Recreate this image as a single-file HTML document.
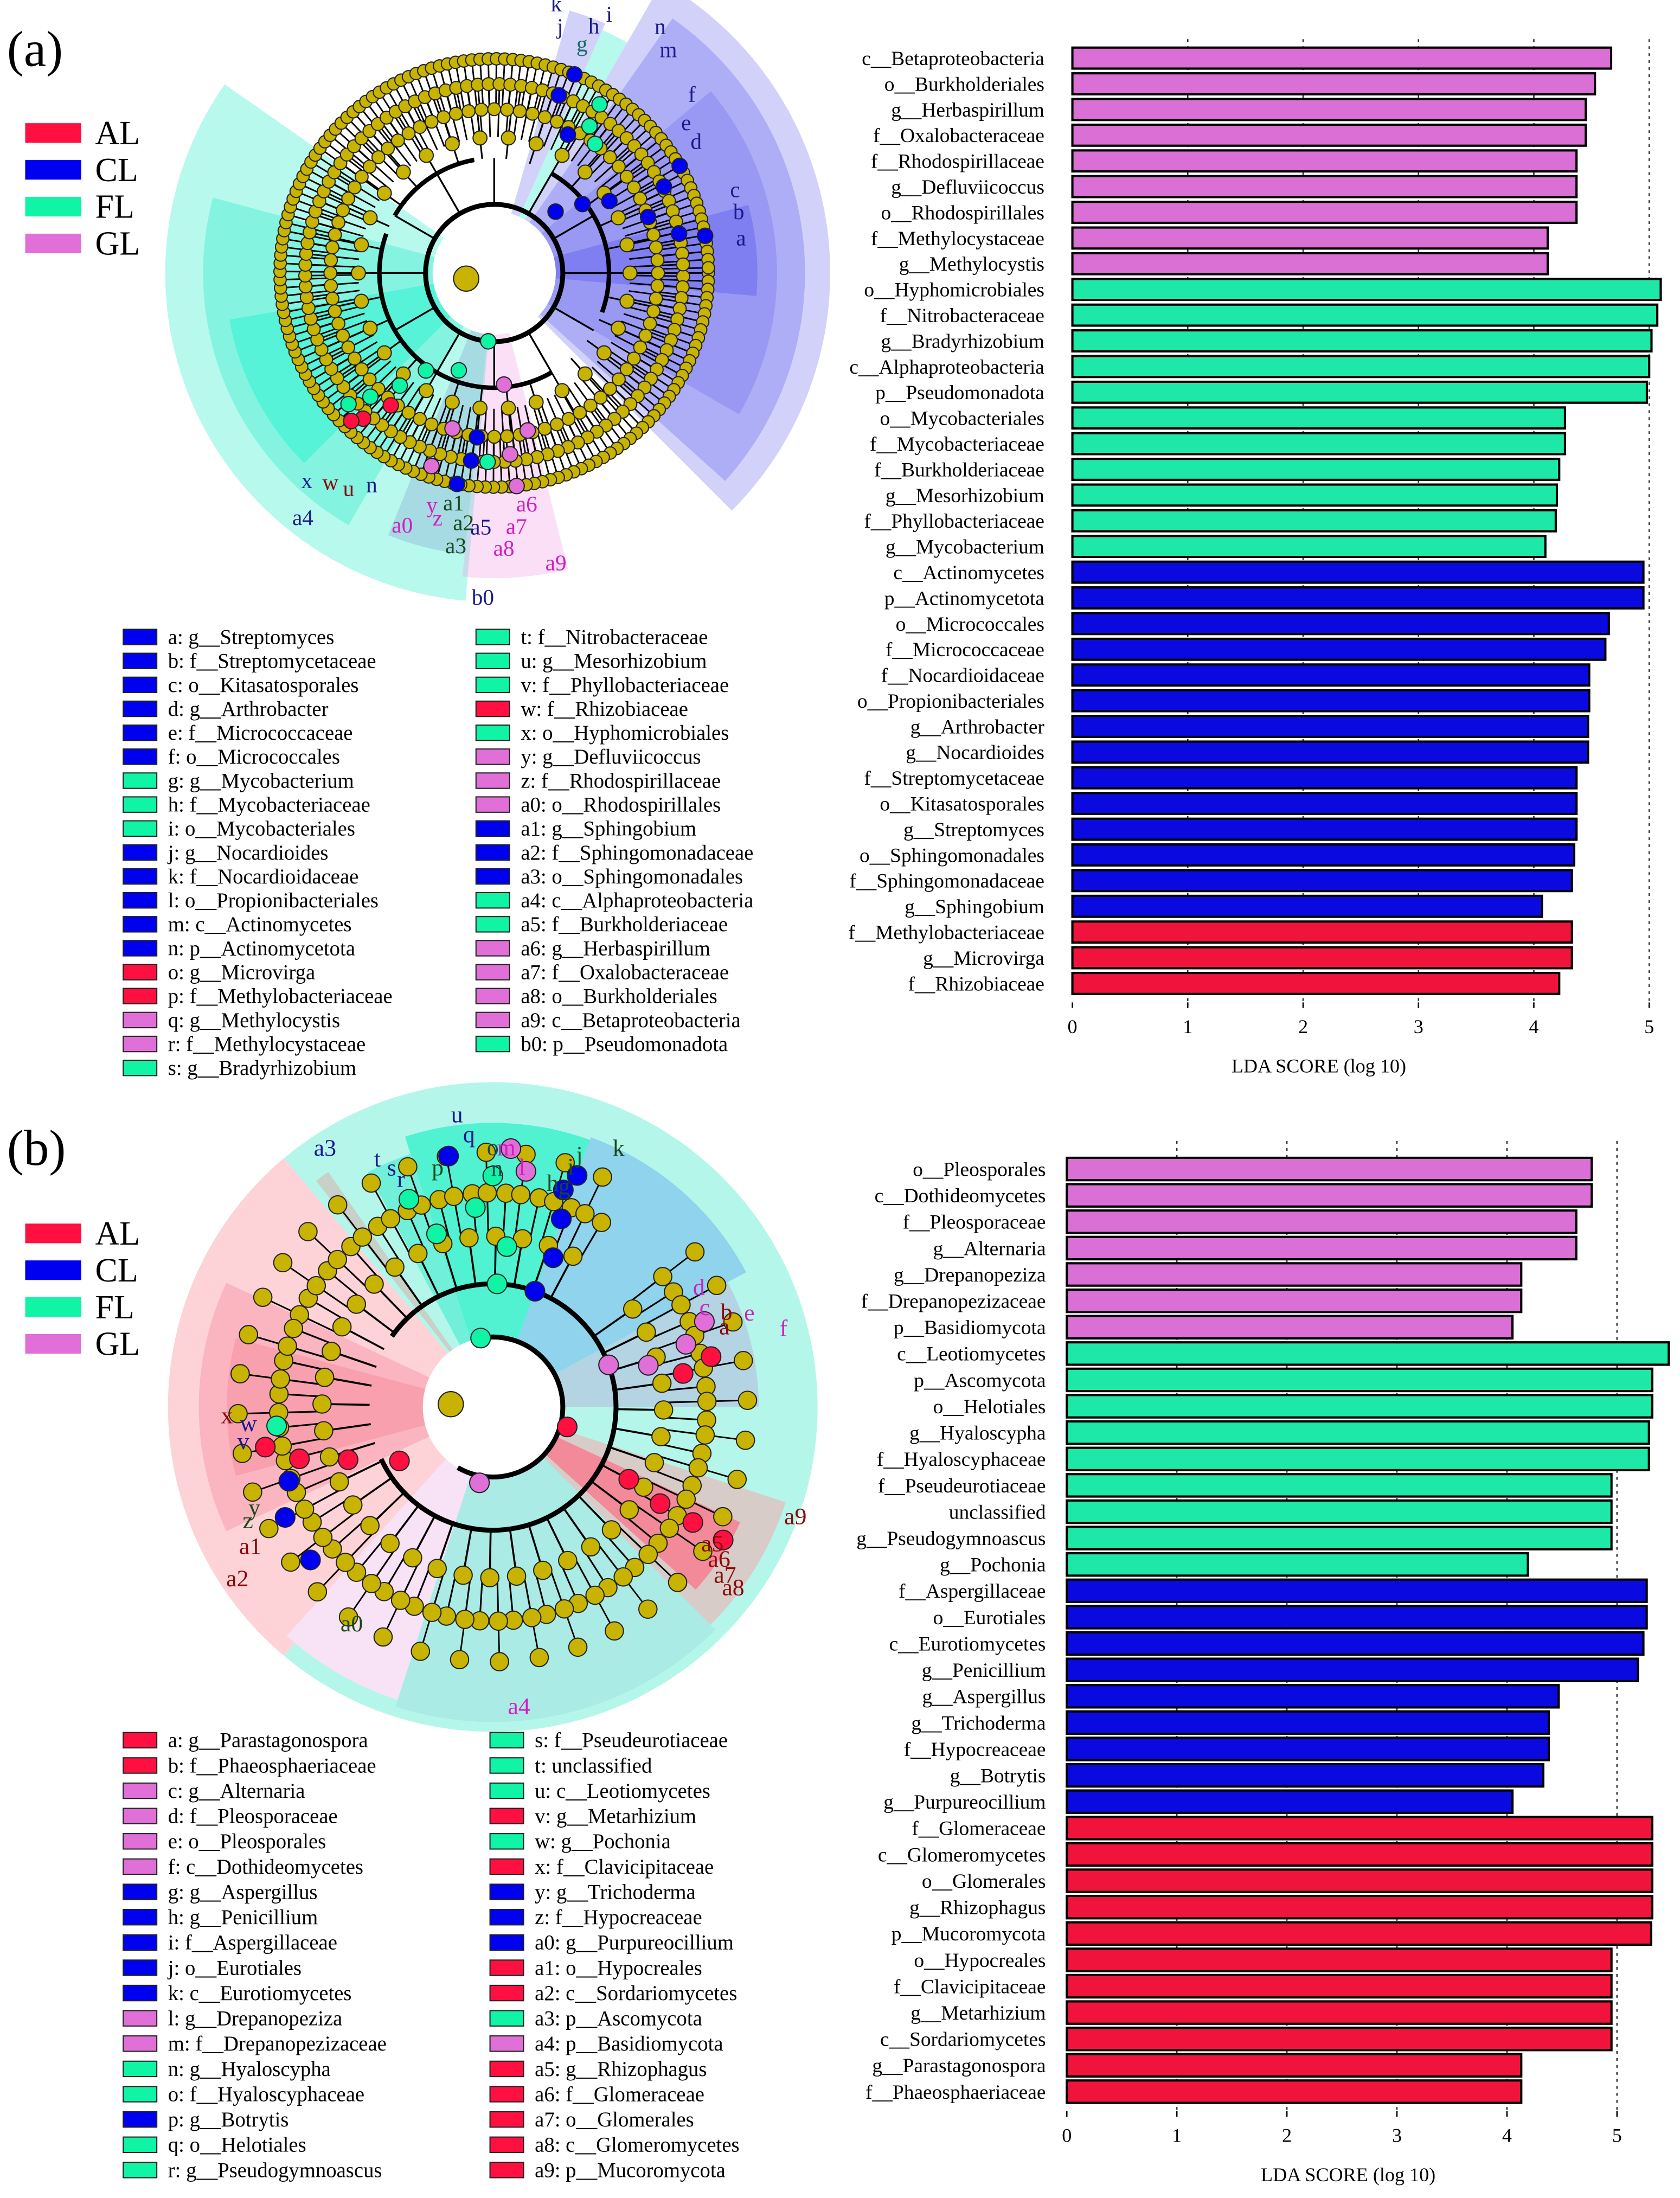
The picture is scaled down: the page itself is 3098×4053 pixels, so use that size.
<!DOCTYPE html>
<html><head><meta charset="utf-8"><style>
html,body{margin:0;padding:0;background:#fff}
svg{display:block;font-family:"Liberation Serif","DejaVu Serif","Times New Roman",serif}
svg text{font-family:"Liberation Serif","DejaVu Serif","Times New Roman",serif}
</style></head><body>
<svg id="root" xmlns="http://www.w3.org/2000/svg" width="3098" height="4053" viewBox="0 0 1200 1570" preserveAspectRatio="none">
<rect width="1200" height="1570" fill="#fff"/>
<text x="5" y="47" font-size="36">(a)</text>
<text x="5" y="832" font-size="36">(b)</text>
<g id="cladeA"></g>
<g id="cladeB"></g>
<g id="legA"></g>
<g id="legB"></g>
<g id="barA"></g>
<g id="barB"></g>
</svg>
<script>
// ===== Chart (a) data =====
const labelsA = ["c__Betaproteobacteria","o__Burkholderiales","g__Herbaspirillum","f__Oxalobacteraceae","f__Rhodospirillaceae","g__Defluviicoccus","o__Rhodospirillales","f__Methylocystaceae","g__Methylocystis","o__Hyphomicrobiales","f__Nitrobacteraceae","g__Bradyrhizobium","c__Alphaproteobacteria","p__Pseudomonadota","o__Mycobacteriales","f__Mycobacteriaceae","f__Burkholderiaceae","g__Mesorhizobium","f__Phyllobacteriaceae","g__Mycobacterium","c__Actinomycetes","p__Actinomycetota","o__Micrococcales","f__Micrococcaceae","f__Nocardioidaceae","o__Propionibacteriales","g__Arthrobacter","g__Nocardioides","f__Streptomycetaceae","o__Kitasatosporales","g__Streptomyces","o__Sphingomonadales","f__Sphingomonadaceae","g__Sphingobium","f__Methylobacteriaceae","g__Microvirga","f__Rhizobiaceae"];
const valuesA = [4.67,4.53,4.45,4.45,4.37,4.37,4.37,4.12,4.12,5.1,5.07,5.02,5.0,4.98,4.27,4.27,4.22,4.2,4.19,4.1,4.95,4.95,4.65,4.62,4.48,4.48,4.47,4.47,4.37,4.37,4.37,4.35,4.33,4.07,4.33,4.33,4.22];
const groupsA = ["GL","GL","GL","GL","GL","GL","GL","GL","GL","FL","FL","FL","FL","FL","FL","FL","FL","FL","FL","FL","CL","CL","CL","CL","CL","CL","CL","CL","CL","CL","CL","CL","CL","CL","AL","AL","AL"];
const ticksA = [0,1,2,3,4,5];
// ===== Chart (b) data =====
const labelsB = ["o__Pleosporales","c__Dothideomycetes","f__Pleosporaceae","g__Alternaria","g__Drepanopeziza","f__Drepanopezizaceae","p__Basidiomycota","c__Leotiomycetes","p__Ascomycota","o__Helotiales","g__Hyaloscypha","f__Hyaloscyphaceae","f__Pseudeurotiaceae","unclassified","g__Pseudogymnoascus","g__Pochonia","f__Aspergillaceae","o__Eurotiales","c__Eurotiomycetes","g__Penicillium","g__Aspergillus","g__Trichoderma","f__Hypocreaceae","g__Botrytis","g__Purpureocillium","f__Glomeraceae","c__Glomeromycetes","o__Glomerales","g__Rhizophagus","p__Mucoromycota","o__Hypocreales","f__Clavicipitaceae","g__Metarhizium","c__Sordariomycetes","g__Parastagonospora","f__Phaeosphaeriaceae"];
const valuesB = [4.77,4.77,4.63,4.63,4.13,4.13,4.05,5.47,5.32,5.32,5.29,5.29,4.95,4.95,4.95,4.19,5.27,5.27,5.24,5.19,4.47,4.38,4.38,4.33,4.05,5.32,5.32,5.32,5.32,5.31,4.95,4.95,4.95,4.95,4.13,4.13];
const groupsB = ["GL","GL","GL","GL","GL","GL","GL","FL","FL","FL","FL","FL","FL","FL","FL","FL","CL","CL","CL","CL","CL","CL","CL","CL","CL","AL","AL","AL","AL","AL","AL","AL","AL","AL","AL","AL"];
const ticksB = [0,1,2,3,4,5];

const COL = {AL:"#f0143c", CL:"#0a0ae0", FL:"#1ee8a8", GL:"#da70d6"};
const LCOL = {AL:"#ff1040", CL:"#0000f0", FL:"#10f5a5", GL:"#e070d8"};
const NS="http://www.w3.org/2000/svg";
const FF="'Liberation Serif','DejaVu Serif','Times New Roman',serif";
function mk(tag, attrs, parent){const e=document.createElementNS(NS,tag);for(const k in attrs)e.setAttribute(k,attrs[k]);if(tag==="text")e.style.fontFamily=FF;if(parent)parent.appendChild(e);return e;}

function barChart(g, labels, values, groups, ticks, cfg){
  const xs = v => cfg.x0 + v*cfg.unit;
  const ys = i => cfg.y0 + i*cfg.step;
  ticks.forEach(t=>{
    if(t>0){const l=mk("line",{x1:xs(t),x2:xs(t),y1:cfg.top,y2:cfg.axisY,stroke:"#333","stroke-width":1,"stroke-dasharray":"2,3"},g);
      
      }
    const tk=mk("line",{x1:xs(t),x2:xs(t),y1:cfg.axisY,y2:cfg.axisY+4,stroke:"#000","stroke-width":1},g);
    
    
    const tl=mk("text",{x:xs(t),y:cfg.axisY+22,"font-size":14,"text-anchor":"middle"},g);
    tl.textContent=t;
    
    
  });
  labels.forEach((lab,i)=>{
    const r=mk("rect",{x:xs(0),y:ys(i)-cfg.h/2,width:xs(values[i])-xs(0),height:cfg.h,fill:COL[groups[i]],stroke:"#000","stroke-width":1.6},g);
    
    
    const t=mk("text",{x:cfg.labelX,y:ys(i)+5,"font-size":14.5,"text-anchor":"end"},g);
    t.textContent=lab;
    
    
  });
  const tt=mk("text",{x:cfg.titleX,y:cfg.axisY+50,"font-size":14,"text-anchor":"middle"},g);
  tt.textContent="LDA SCORE (log 10)";
  
  
}
barChart(document.getElementById("barA"),labelsA,valuesA,groupsA,ticksA,{x0:766,unit:82.4,y0:41.5,step:18.36,h:15,top:28,axisY:716,labelX:746,titleX:942});
barChart(document.getElementById("barB"),labelsB,valuesB,groupsB,ticksB,{x0:762,unit:78.6,y0:835,step:18.83,h:16,top:815,axisY:1508,labelX:747,titleX:963});

// ===== Legends =====
const legItemsA = [["a: g__Streptomyces","CL"],["b: f__Streptomycetaceae","CL"],["c: o__Kitasatosporales","CL"],["d: g__Arthrobacter","CL"],["e: f__Micrococcaceae","CL"],["f: o__Micrococcales","CL"],["g: g__Mycobacterium","FL"],["h: f__Mycobacteriaceae","FL"],["i: o__Mycobacteriales","FL"],["j: g__Nocardioides","CL"],["k: f__Nocardioidaceae","CL"],["l: o__Propionibacteriales","CL"],["m: c__Actinomycetes","CL"],["n: p__Actinomycetota","CL"],["o: g__Microvirga","AL"],["p: f__Methylobacteriaceae","AL"],["q: g__Methylocystis","GL"],["r: f__Methylocystaceae","GL"],["s: g__Bradyrhizobium","FL"],
["t: f__Nitrobacteraceae","FL"],["u: g__Mesorhizobium","FL"],["v: f__Phyllobacteriaceae","FL"],["w: f__Rhizobiaceae","AL"],["x: o__Hyphomicrobiales","FL"],["y: g__Defluviicoccus","GL"],["z: f__Rhodospirillaceae","GL"],["a0: o__Rhodospirillales","GL"],["a1: g__Sphingobium","CL"],["a2: f__Sphingomonadaceae","CL"],["a3: o__Sphingomonadales","CL"],["a4: c__Alphaproteobacteria","FL"],["a5: f__Burkholderiaceae","FL"],["a6: g__Herbaspirillum","GL"],["a7: f__Oxalobacteraceae","GL"],["a8: o__Burkholderiales","GL"],["a9: c__Betaproteobacteria","GL"],["b0: p__Pseudomonadota","FL"]];
const legItemsB = [["a: g__Parastagonospora","AL"],["b: f__Phaeosphaeriaceae","AL"],["c: g__Alternaria","GL"],["d: f__Pleosporaceae","GL"],["e: o__Pleosporales","GL"],["f: c__Dothideomycetes","GL"],["g: g__Aspergillus","CL"],["h: g__Penicillium","CL"],["i: f__Aspergillaceae","CL"],["j: o__Eurotiales","CL"],["k: c__Eurotiomycetes","CL"],["l: g__Drepanopeziza","GL"],["m: f__Drepanopezizaceae","GL"],["n: g__Hyaloscypha","FL"],["o: f__Hyaloscyphaceae","FL"],["p: g__Botrytis","CL"],["q: o__Helotiales","FL"],["r: g__Pseudogymnoascus","FL"],
["s: f__Pseudeurotiaceae","FL"],["t: unclassified","FL"],["u: c__Leotiomycetes","FL"],["v: g__Metarhizium","AL"],["w: g__Pochonia","FL"],["x: f__Clavicipitaceae","AL"],["y: g__Trichoderma","CL"],["z: f__Hypocreaceae","CL"],["a0: g__Purpureocillium","CL"],["a1: o__Hypocreales","AL"],["a2: c__Sordariomycetes","AL"],["a3: p__Ascomycota","FL"],["a4: p__Basidiomycota","GL"],["a5: g__Rhizophagus","AL"],["a6: f__Glomeraceae","AL"],["a7: o__Glomerales","AL"],["a8: c__Glomeromycetes","AL"],["a9: p__Mucoromycota","AL"]];
function legend(g, items, split, y0, step, x1, x2){
  items.forEach((it,i)=>{
    const col = i<split?0:1, row = i<split?i:i-split;
    const x = col?x2:x1, y=y0+row*step;
    const r=mk("rect",{x:x,y:y-5.5,width:24,height:11,fill:LCOL[it[1]],stroke:"#222","stroke-width":0.8},g);
    
    
    const t=mk("text",{x:x+32,y:y+5,"font-size":15},g);
    t.textContent=it[0];
    
    
  });
}
legend(document.getElementById("legA"),legItemsA,19,455,17.1,88,340);
legend(document.getElementById("legB"),legItemsB,18,1243,18.06,88,350);

function groupLegend(y0){
  const g=document.getElementById("root");
  ["AL","CL","FL","GL"].forEach((k,i)=>{
    const r=mk("rect",{x:18,y:y0+i*26.3-7,width:40,height:14,fill:LCOL[k]},g);
    
    
    const t=mk("text",{x:68,y:y0+i*26.3+8,"font-size":24},g);
    t.textContent=k;
    
    
  });
}
groupLegend(95); groupLegend(881);

// ===== Cladograms =====
function P(cx,cy,r,a){const t=a*Math.PI/180;return [cx+r*Math.cos(t),cy+r*Math.sin(t)];}
function sector(g,cx,cy,r0,r1,a0,a1,fill,name){
  const L=(a1-a0)>180?1:0;const p1=P(cx,cy,r0,a0),p2=P(cx,cy,r1,a0),p3=P(cx,cy,r1,a1),p4=P(cx,cy,r0,a1);
  let d=`M${p2} A${r1} ${r1} 0 ${L} 1 ${p3} `;
  d+= r0>0?`L${p4} A${r0} ${r0} 0 ${L} 0 ${p1} Z`:`L${cx},${cy} Z`;
  const e=mk("path",{d:d,fill:fill},g);
  
  
}
function arc(g,cx,cy,r,a0,a1,w){
  const L=(a1-a0)>180?1:0;const p1=P(cx,cy,r,a0),p2=P(cx,cy,r,a1);
  const e=mk("path",{d:`M${p1} A${r} ${r} 0 ${L} 1 ${p2}`,fill:"none",stroke:"#000","stroke-width":w},g);
  
  
}
function line(g,cx,cy,r0,r1,a,w,c){const p=P(cx,cy,r0,a),q=P(cx,cy,r1,a);
  const e=mk("line",{x1:p[0],y1:p[1],x2:q[0],y2:q[1],stroke:c||"#000","stroke-width":w||1},g);
  
  }
function node(g,cx,cy,r,a,rad,fill){const p=P(cx,cy,r,a);
  const e=mk("circle",{cx:p[0],cy:p[1],r:rad,fill:fill||"#c8b400",stroke:"#222","stroke-width":0.8},g);
  
  }
function lab(g,cx,cy,r,a,txt,col,fs){const p=P(cx,cy,r,a);
  const e=mk("text",{x:p[0],y:p[1]+5,"font-size":fs||17,fill:col,"text-anchor":"middle"},g);
  e.textContent=txt;
  
  }

// (a)
(function(){
  const g=document.getElementById("cladeA"), cx=353, cy=195;
  const cyan="rgba(0,235,195,0.28)", blue="rgba(70,70,235,0.25)", pink="rgba(240,150,230,0.3)";
  sector(g,cx,cy,0,235,95,215,cyan,'clade-b0');
  sector(g,cx,cy,0,208,120,195,cyan,'clade-a4');
  sector(g,cx,cy,0,192,135,170,"rgba(0,240,200,0.35)",'clade-x');
  sector(g,cx,cy,0,240,-60,45,blue,'clade-n');
  sector(g,cx,cy,0,222,-55,42,blue,'clade-m');
  sector(g,cx,cy,0,202,-40,30,"rgba(70,70,235,0.2)",'clade-f');
  sector(g,cx,cy,0,188,-15,5,"rgba(50,50,235,0.25)",'clade-c');
  sector(g,cx,cy,0,218,76,96,pink,'clade-a9');
  sector(g,cx,cy,0,202,96,112,"rgba(110,130,200,0.25)",'clade-a0');
  sector(g,cx,cy,0,195,-74,-66,blue,'clade-l');
  sector(g,cx,cy,0,190,-66,-60,cyan,'clade-i');
  mk("circle",{cx:cx,cy:cy,r:44,fill:"#fff"},g);
  for(let a=0;a<360;a+=2.2){ line(g,cx,cy,118,153,a,1.1); }
  for(let a=1;a<360;a+=3.3){ line(g,cx,cy,97,135,a,1.1); }
  for(let a=0;a<360;a+=12){ line(g,cx,cy,82,117,a,1.2); }
  arc(g,cx,cy,49,0,359.9,3.5);
  arc(g,cx,cy,82,-150,-100,3.2); arc(g,cx,cy,82,-60,20,3.2); arc(g,cx,cy,82,60,200,3.2);
  for(let a=0;a<360;a+=30){ line(g,cx,cy,49,82,a,1.3); }
  for(let a=0;a<360;a+=2.2) node(g,cx,cy,153,a,4.4);
  for(let a=1;a<360;a+=3.3) node(g,cx,cy,135,a,4.6);
  for(let a=0;a<360;a+=4.5) node(g,cx,cy,117,a,4.6);
  for(let a=0;a<360;a+=12) node(g,cx,cy,97,a,5);
  const col=[[-68,153,"CL"],[-58,142,"FL"],[-70,135,"CL"],[-57,125,"FL"],[-52,117,"FL"],[-62,112,"CL"],[-30,153,"CL"],[-27,136,"CL"],[-10,153,"CL"],[-12,135,"CL"],[-20,117,"CL"],[-32,97,"CL"],[-38,80,"CL"],[-45,62,"CL"],
    [95,49,"FL"],[110,74,"FL"],[125,85,"FL"],[130,105,"FL"],[135,125,"FL"],[138,140,"FL"],[128,120,"AL"],[132,140,"AL"],[134,147,"AL"],
    [85,80,"GL"],[78,115,"GL"],[85,130,"GL"],[84,153,"GL"],[100,153,"CL"],[97,135,"CL"],[96,118,"CL"],[105,115,"GL"],[108,145,"GL"],[92,135,"FL"]];
  col.forEach(c=>node(g,cx,cy,c[1],c[0],5.5,LCOL[c[2]]));
  const cn=mk("circle",{cx:333,cy:199,r:9,fill:"#c8b400",stroke:"#222","stroke-width":0.8},g);
  
  
  const L=[["a",-8,178,"#1a1a8a"],["b",-14,180,"#1a1a8a"],["c",-19,182,"#1a1a8a"],["d",-33,172,"#1a1a8a"],["e",-38,174,"#1a1a8a"],["f",-42,190,"#1a1a8a"],["m",-52,202,"#1a1a8a"],["n",-56,212,"#1a1a8a"],
    ["g",-69,175,"#1a6a6a"],["h",-68,190,"#1a1a8a"],["i",-66,202,"#1a1a8a"],["j",-75,182,"#1a1a8a"],["k",-77,197,"#1a1a8a"],["l",-79,212,"#1a1a8a"],
    ["x",132,200,"#1a1a8a"],["w",128,190,"#8a0a0a"],["u",124,186,"#8a0a0a"],["n",120,175,"#1a1a8a"],["a4",128,222,"#1a1a8a"],
    ["a0",110,192,"#d020c0"],["y",105,172,"#d020c0"],["z",103,180,"#d020c0"],["a3",98,197,"#1a4a1a"],["a2",97,180,"#1a4a1a"],["a1",100,167,"#1a4a1a"],["a5",93,182,"#1a1a8a"],
    ["a6",82,167,"#d020c0"],["a7",85,182,"#d020c0"],["a8",88,197,"#d020c0"],["a9",78,212,"#d020c0"],["b0",92,232,"#1a1a8a"]];
  L.forEach(l=>lab(g,cx,cy,l[2],l[1],l[0],l[3],16));
})();

// (b)
(function(){
  const g=document.getElementById("cladeB"), cx=352, cy=1005;
  const bg=mk("circle",{cx:cx,cy:cy,r:232,fill:"#b4f7ea"},g);
  
  
  sector(g,cx,cy,0,232,130,230,"#fdd3d8",'clade-a2');
  sector(g,cx,cy,0,210,155,205,"#fbb5c0",'clade-a1');
  sector(g,cx,cy,0,190,165,195,"#f8a0ae",'clade-x');
  sector(g,cx,cy,0,220,108,132,"#f8e2f6",'clade-a4');
  sector(g,cx,cy,0,220,18,45,"#d8ccc8",'clade-a9');
  sector(g,cx,cy,0,195,25,42,"#f28a9a",'clade-a5');
  sector(g,cx,cy,0,205,-70,-28,"#8fd4ec",'clade-k');
  sector(g,cx,cy,0,190,-28,0,"#b4d4e4",'clade-f');
  sector(g,cx,cy,0,203,-108,-70,"#50f2d2",'clade-u');
  sector(g,cx,cy,0,190,-118,-108,"#70f0d8",'clade-t');
  sector(g,cx,cy,0,205,-128,-125,"#c8d0c8",'clade-a3-edge');
  sector(g,cx,cy,0,225,45,108,"rgba(100,160,200,0.12)",'clade-a4-region');
  mk("circle",{cx:cx,cy:cy,r:50,fill:"#fff"},g);
  arc(g,cx,cy,50,-100,120,3.5);
  arc(g,cx,cy,88,-145,155,3.5);
  arc(g,cx,cy,88,20,80,3);
  for(let a=-170;a<200;a+=9){
    if(a>-60&&a<-40) continue;
    line(g,cx,cy,88,122,a,1.4);
    line(g,cx,cy,122,153,a-2.5,1.2); line(g,cx,cy,122,153,a+2.5,1.2);
    line(g,cx,cy,153,182,a-2.5,1.1);
    node(g,cx,cy,122,a,6.5);
    node(g,cx,cy,153,a-2.5,6.5); node(g,cx,cy,153,a+2.5,6.5);
    node(g,cx,cy,182,a-2.5,6.5);
  }
  const col=[[-100,50,"FL"],[-88,88,"FL"],[-85,115,"FL"],[-95,143,"FL"],[-108,130,"FL"],[-112,160,"FL"],[-90,165,"FL"],[-100,182,"CL"],[-82,170,"GL"],[-86,185,"GL"],
    [-70,88,"CL"],[-68,115,"CL"],[-70,143,"CL"],[-72,163,"CL"],[-70,176,"CL"],[-20,88,"GL"],[-15,115,"GL"],[-18,145,"GL"],[-22,163,"GL"],[-10,138,"AL"],[-13,160,"AL"],
    [15,55,"AL"],[28,110,"AL"],[30,138,"AL"],[30,165,"AL"],[30,190,"AL"],[100,55,"GL"],
    [150,77,"AL"],[160,110,"AL"],[165,143,"AL"],[170,165,"AL"],[175,155,"FL"],[160,155,"CL"],[152,168,"CL"],[140,170,"CL"]];
  col.forEach(c=>node(g,cx,cy,c[1],c[0],7,LCOL[c[2]]));
  const cn=mk("circle",{cx:322,cy:1003,r:9,fill:"#c8b400",stroke:"#222","stroke-width":0.8},g);
  
  
  const L=[["a3",-123,220,"#1a1a8a"],["t",-115,195,"#1a1a8a"],["s",-113,185,"#1a1a8a"],["r",-112,175,"#1a1a8a"],["p",-103,175,"#1a4a1a"],["u",-97,210,"#1a1a8a"],["q",-95,195,"#1a1a8a"],["o",-90,185,"#1a4a4a"],["m",-87,185,"#d020c0"],["n",-89,170,"#1a4a4a"],["l",-83,172,"#d020c0"],
    ["j",-71,190,"#1a4a1a"],["i",-72,180,"#1a4a1a"],["h",-75,165,"#1a4a1a"],["g",-72,165,"#1a4a1a"],["k",-64,205,"#1a4a1a"],["d",-30,170,"#d020c0"],["c",-25,167,"#d020c0"],["b",-22,180,"#8a0a0a"],["a",-19,175,"#8a0a0a"],["e",-20,195,"#d020c0"],["f",-15,215,"#d020c0"],
    ["a9",20,230,"#8a0a0a"],["a5",32,185,"#8a0a0a"],["a6",34,195,"#8a0a0a"],["a7",36,205,"#8a0a0a"],["a8",37,215,"#8a0a0a"],["a4",85,215,"#d020c0"],["a0",123,185,"#1a4a1a"],
    ["x",178,190,"#8a0a0a"],["w",176,175,"#1a1a8a"],["v",172,180,"#1a1a8a"],["y",157,185,"#1a4a1a"],["z",155,193,"#1a4a1a"],["a1",150,200,"#8a0a0a"],["a2",146,220,"#8a0a0a"]];
  L.forEach(l=>lab(g,cx,cy,l[2],l[1],l[0],l[3],17));
})();
</script>
</body></html>
